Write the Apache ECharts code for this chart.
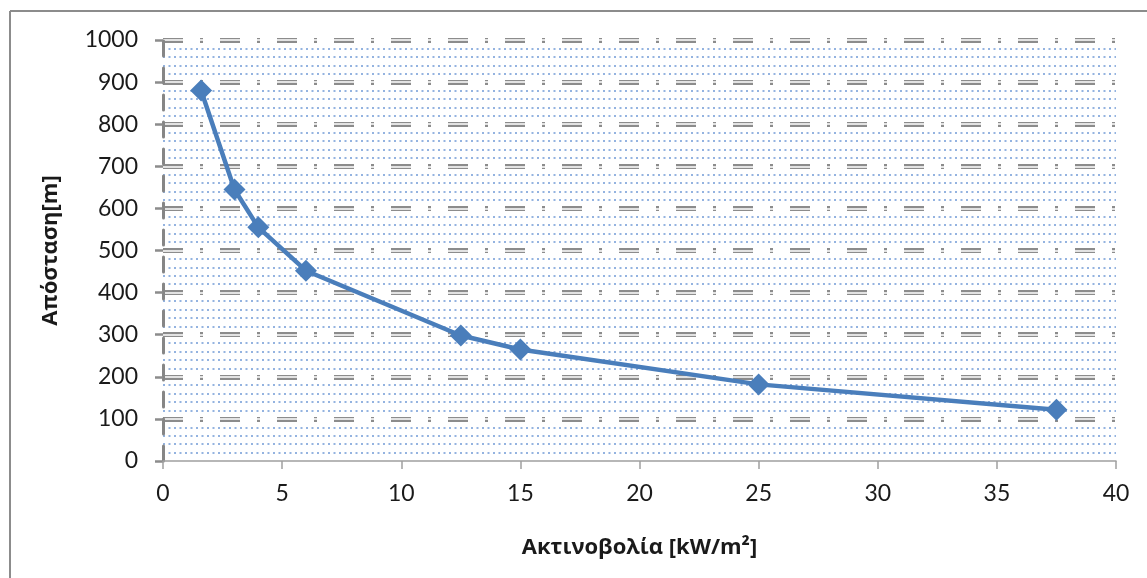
<!DOCTYPE html>
<html>
<head>
<meta charset="utf-8">
<script src="https://cdn.jsdelivr.net/npm/echarts@6/dist/echarts.min.js"></script>
<style>
  html, body { margin: 0; padding: 0; background: #fff; }
  #chart { width: 1147px; height: 578px; }
</style>
</head>
<body>
<div id="chart"></div>
<script>
// radiation (kW/m2) vs distance (m)
const radiation = [1.6, 3, 4, 6, 12.5, 15, 25, 37.5];
const distance = [880, 645, 555, 452, 298, 265, 182, 122];
const xTitle = "Ακτινοβολία [kW/m²]";
const yTitle = "Απόσταση[m]";

const font = "Lato, 'Open Sans', sans-serif";
const titleFont = "'Open Sans', sans-serif";
const gray = "#8c8c8c";
const dashDot = [20, 17, 3, 17];

const chart = echarts.init(document.getElementById("chart"));

const points = radiation.map((x, i) => [x, distance[i]]);

chart.setOption({
  animation: false,
  backgroundColor: "#fff",
  grid: { left: 163, right: 31, top: 40, bottom: 117 },
  graphic: [
    { type: "line", shape: { x1: 10, y1: 11, x2: 1147, y2: 11 }, style: { stroke: gray, lineWidth: 2 } },
    { type: "line", shape: { x1: 10, y1: 11, x2: 10, y2: 578 }, style: { stroke: gray, lineWidth: 2 } },
  ],
  xAxis: {
    type: "value",
    min: 0,
    max: 40,
    interval: 5,
    name: xTitle,
    nameLocation: "middle",
    nameGap: 76,
    nameTextStyle: { fontFamily: titleFont, fontSize: 22, fontWeight: "bold", color: "#1a1a1a" },
    axisLine: { show: true, lineStyle: { color: "#a0a0a0", width: 1.5 } },
    axisTick: { show: true, length: 8, lineStyle: { color: "#a0a0a0", width: 1.5 } },
    axisLabel: { fontFamily: font, fontSize: 23, color: "#1a1a1a", margin: 21 },
    splitLine: { show: false },
  },
  yAxis: [
    {
      type: "value",
      min: 0,
      max: 1000,
      interval: 100,
      name: yTitle,
      nameLocation: "middle",
      nameGap: 101,
      nameTextStyle: { fontFamily: titleFont, fontSize: 22, fontWeight: "bold", color: "#1a1a1a", padding: [0, 0, 0, 0] },
      axisLine: { show: true, lineStyle: { color: "#868686", width: 3, type: [15, 12] } },
      axisTick: { show: true, length: 8, lineStyle: { color: gray, width: 2.5 } },
      axisLabel: { fontFamily: font, fontSize: 23, color: "#1a1a1a", margin: 25, formatter: (v) => String(v) },
      splitLine: { show: true, showMinLine: false, lineStyle: { color: gray, width: 5, type: dashDot } },
      minorTick: { show: false, splitNumber: 5 },
      minorSplitLine: { show: true, lineStyle: { color: "#94b3e0", width: 2, type: [2, 3.5] } },
    },
    {
      type: "value",
      position: "left",
      min: 0,
      max: 1000,
      interval: 100,
      axisLine: { show: false },
      axisTick: { show: false },
      axisLabel: { show: false },
      splitLine: { show: true, showMinLine: false, lineStyle: { color: "#fff", width: 1.5, type: dashDot } },
    },
  ],
  series: [
    {
      type: "line",
      data: points,
      symbol: "diamond",
      symbolSize: 22,
      lineStyle: { color: "#4a7ebb", width: 4.5 },
      itemStyle: { color: "#4a7ebb" },
      z: 5,
    },
  ],
});
</script>
</body>
</html>
